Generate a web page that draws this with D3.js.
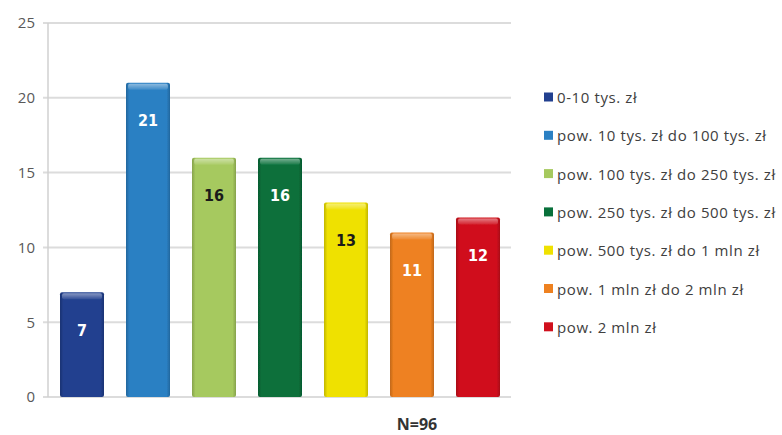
<!DOCTYPE html>
<html>
<head>
<meta charset="utf-8">
<script src="https://cdn.jsdelivr.net/npm/d3@7"></script>
<style>
  html, body { margin: 0; padding: 0; background: #ffffff; }
  svg { display: block; }
</style>
</head>
<body>
<svg id="chart" width="782" height="435"></svg>
<script>
// Przedziały wartości i liczba odpowiedzi
const categories = [
  "0-10 tys. zł",
  "pow. 10 tys. zł do 100 tys. zł",
  "pow. 100 tys. zł do 250 tys. zł",
  "pow. 250 tys. zł do 500 tys. zł",
  "pow. 500 tys. zł do 1 mln zł",
  "pow. 1 mln zł do 2 mln zł",
  "pow. 2 mln zł"
];
const values = [7, 21, 16, 16, 13, 11, 12];
const colors = ["#22408f", "#2b80c3", "#a6c95e", "#08703a", "#efe100", "#ee8120", "#d0101d"];
const labelColors = ["#ffffff", "#ffffff", "#1a1a1a", "#ffffff", "#1a1a1a", "#ffffff", "#ffffff"];
const yTicks = [0, 5, 10, 15, 20, 25];
const note = "N=96";

const svg = d3.select("#chart");
const margin = { left: 49, right: 271, top: 23, bottom: 38 };
const W = 782, H = 435;

const x = d3.scaleBand()
  .domain(categories)
  .range([margin.left, W - margin.right])
  .paddingInner(1 / 3)
  .paddingOuter(1 / 6);

const y = d3.scaleLinear()
  .domain([0, 25])
  .range([H - margin.bottom, margin.top]);

const defs = svg.append("defs");
colors.forEach((c, i) => {
  const base = d3.color(c);
  const g = defs.append("linearGradient").attr("id", "bar" + i)
    .attr("x1", "0").attr("x2", "1").attr("y1", "0").attr("y2", "0");
  g.append("stop").attr("offset", "0%").attr("stop-color", base.darker(0.6));
  g.append("stop").attr("offset", "8%").attr("stop-color", base);
  g.append("stop").attr("offset", "92%").attr("stop-color", base);
  g.append("stop").attr("offset", "100%").attr("stop-color", base.darker(0.6));
});
const cap = defs.append("linearGradient").attr("id", "cap")
  .attr("x1", "0").attr("x2", "0").attr("y1", "0").attr("y2", "1");
cap.append("stop").attr("offset", "0%").attr("stop-color", "#ffffff").attr("stop-opacity", 0.45);
cap.append("stop").attr("offset", "100%").attr("stop-color", "#ffffff").attr("stop-opacity", 0.08);

defs.append("filter").attr("id", "soft")
  .attr("x", "-5%").attr("y", "-5%").attr("width", "110%").attr("height", "110%")
  .append("feGaussianBlur").attr("stdDeviation", 0.5);

// Siatka pozioma
const xEnd = W - margin.right;
svg.append("g")
  .selectAll("line")
  .data(yTicks)
  .join("line")
  .attr("x1", margin.left - 6)
  .attr("x2", xEnd)
  .attr("y1", d => y(d))
  .attr("y2", d => y(d))
  .attr("stroke", "#dcdcdc")
  .attr("stroke-width", 2);

// Oś pionowa
svg.append("line")
  .attr("x1", margin.left - 1).attr("x2", margin.left - 1)
  .attr("y1", y(25)).attr("y2", y(0))
  .attr("stroke", "#d0d0d0").attr("stroke-width", 1.5);

// Etykiety osi Y
const yAxis = d3.axisLeft(y).tickValues(yTicks).tickSize(0).tickPadding(14);
const gy = svg.append("g")
  .attr("transform", `translate(${margin.left},0)`)
  .call(yAxis);
gy.select(".domain").remove();
gy.selectAll("text")
  .attr("font-family", "'Open Sans', sans-serif")
  .attr("font-size", 15)
  .attr("fill", "#595959");

// Słupki
const bars = svg.append("g").attr("filter", "url(#soft)");
bars.selectAll("rect.body")
  .data(values)
  .join("rect")
  .attr("class", "body")
  .attr("x", (d, i) => x(categories[i]))
  .attr("y", d => y(d))
  .attr("width", x.bandwidth())
  .attr("height", d => y(0) - y(d))
  .attr("rx", 2)
  .attr("fill", (d, i) => `url(#bar${i})`);

bars.selectAll("rect.cap")
  .data(values)
  .join("rect")
  .attr("class", "cap")
  .attr("x", (d, i) => x(categories[i]) + 2)
  .attr("y", d => y(d) + 1)
  .attr("width", x.bandwidth() - 4)
  .attr("height", 6)
  .attr("rx", 2)
  .attr("fill", "url(#cap)");

// Wartości na słupkach
svg.append("g")
  .selectAll("text")
  .data(values)
  .join("text")
  .attr("x", (d, i) => x(categories[i]) + x.bandwidth() / 2)
  .attr("y", d => y(d) + 38)
  .attr("text-anchor", "middle")
  .attr("dominant-baseline", "central")
  .attr("font-family", "'DejaVu Sans Condensed', 'Open Sans', sans-serif")
  .attr("font-weight", "bold")
  .attr("font-size", 16)
  .attr("fill", (d, i) => labelColors[i])
  .text(d => d);

// Legenda
const legend = svg.append("g")
  .selectAll("g")
  .data(categories)
  .join("g")
  .attr("transform", (d, i) => `translate(544, ${97 + i * 38.3})`);
legend.append("rect")
  .attr("x", 0).attr("y", -4.5)
  .attr("width", 9).attr("height", 9)
  .attr("fill", (d, i) => colors[i]);
legend.append("text")
  .attr("x", 13)
  .attr("y", 0)
  .attr("dominant-baseline", "central")
  .attr("font-family", "'Open Sans', sans-serif")
  .attr("font-size", 15)
  .attr("letter-spacing", 0.6)
  .attr("fill", "#404040")
  .text(d => d);

// Liczebność próby
svg.append("text")
  .attr("x", 417)
  .attr("y", 424)
  .attr("text-anchor", "middle")
  .attr("dominant-baseline", "central")
  .attr("font-family", "'Open Sans', sans-serif")
  .attr("font-weight", "bold")
  .attr("font-size", 16)
  .attr("fill", "#333333")
  .text(note);
</script>
</body>
</html>
